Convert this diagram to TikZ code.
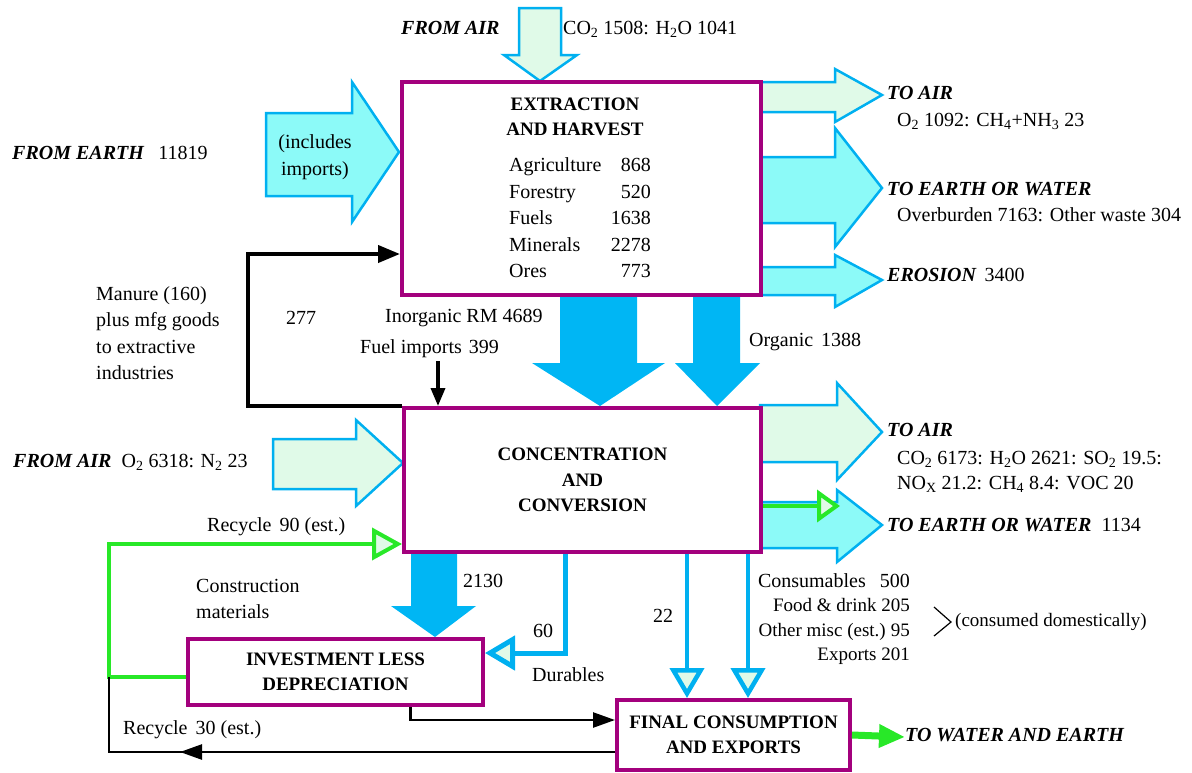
\documentclass[tikz,border=0pt]{standalone}
\usepackage{fontspec}
\setmainfont{Liberation Serif}
\usetikzlibrary{arrows.meta,decorations.markings,calc}
\definecolor{pur}{RGB}{163,0,125}
\definecolor{cyl}{RGB}{0,176,240}
\definecolor{aqua}{RGB}{140,250,248}
\definecolor{lgr}{RGB}{224,250,232}
\definecolor{solidc}{RGB}{0,182,244}
\definecolor{grn}{RGB}{40,232,40}
\begin{document}
\begin{tikzpicture}[x=1pt,y=-1pt,
  box/.style={draw=pur,line width=4pt,fill=white,inner sep=0pt,align=center,
    font=\fontsize{19}{25.5}\selectfont\bfseries},
  lab/.style={inner sep=0pt,font=\fontsize{20}{24}\selectfont,text height=13pt,text depth=4pt},
  bi/.style={lab,font=\fontsize{20}{24}\selectfont\bfseries\itshape},
  mlab/.style={inner sep=0pt,font=\fontsize{20}{26.5}\selectfont},
  barrow/.style={draw=cyl,line width=2.5pt,line join=miter},
  aquaA/.style={barrow,fill=aqua},
  greenA/.style={barrow,fill=lgr},
  solidA/.style={fill=solidc},
  blk/.style={line width=4pt,-{Triangle[length=22pt,width=17pt]}},
  blkthin/.style={line width=2.5pt,-{Triangle[length=22pt,width=15pt]}},
  grnline/.style={draw=grn,line width=4pt,-{Triangle[length=30pt,width=32pt,fill=lgr]}},
  cyline/.style={draw=cyl,line width=5pt,-{Triangle[length=30pt,width=34pt,fill=lgr]}},
]
\useasboundingbox (0,0) rectangle (1192,772);

% ---- block arrows ----
\draw[greenA] (519,8) -- (561,8) -- (561,55) -- (577,55) -- (540,81) -- (504,55) -- (519,55) -- cycle;
\draw[aquaA] (266,113) -- (352,113) -- (352,82) -- (399,152) -- (352,222) -- (352,196) -- (266,196) -- cycle;
\draw[greenA] (760,82) -- (835,82) -- (835,69) -- (882,95) -- (835,122) -- (835,112) -- (760,112) -- cycle;
\draw[aquaA] (760,157) -- (835,157) -- (835,128) -- (882,188) -- (835,247) -- (835,223) -- (760,223) -- cycle;
\draw[aquaA] (760,267) -- (835,267) -- (835,255) -- (882,280) -- (835,307) -- (835,295) -- (760,295) -- cycle;
\draw[greenA] (273,439) -- (356,439) -- (356,420) -- (403,463) -- (356,506) -- (356,489) -- (273,489) -- cycle;
\draw[greenA] (760,405) -- (837,405) -- (837,383) -- (882,432) -- (837,480) -- (837,462) -- (760,462) -- cycle;
\draw[aquaA] (760,502) -- (837,502) -- (837,490) -- (882,525) -- (837,562) -- (837,548) -- (760,548) -- cycle;
\fill[solidA] (560,295) -- (637,295) -- (637,363) -- (665,363) -- (600,406) -- (532,363) -- (560,363) -- cycle;
\fill[solidA] (693,295) -- (740,295) -- (740,363) -- (760,363) -- (717,406) -- (675,363) -- (693,363) -- cycle;
\fill[solidA] (411,552) -- (457,552) -- (457,606) -- (476,606) -- (435,637) -- (391,606) -- (411,606) -- cycle;

% ---- boxes ----
\node[box,minimum width=359pt,minimum height=213pt] (ext) at (581.5,188.5) {};
\node[box,minimum width=357pt,minimum height=144pt] (conc) at (582.5,480) {CONCENTRATION\\AND\\CONVERSION};
\node[box,minimum width=295pt,minimum height=66pt,font=\fontsize{19}{25}\selectfont\bfseries] (inv) at (335.5,672) {INVESTMENT LESS\\DEPRECIATION};
\node[box,minimum width=233pt,minimum height=70pt,font=\fontsize{19}{25}\selectfont\bfseries] (fin) at (733.5,735) {FINAL CONSUMPTION\\AND EXPORTS};

% ---- box 1 text ----
\node[inner sep=0pt,align=center,font=\fontsize{19}{25.5}\selectfont\bfseries] (exth) at (575,117) {EXTRACTION\\AND HARVEST};
\foreach \n/\v [count=\i] in {Agriculture/868,Forestry/520,Fuels/1638,Minerals/2278,Ores/773}{
  \node[lab,anchor=west] (r\i) at (509,{140.5+26.5*\i}) {\n};
  \node[lab,anchor=east] (v\i) at (651,{140.5+26.5*\i}) {\v};
}

% ---- connectors ----
\draw[blk] (conc.north west) -- ++(-154,0) |- ([yshift=43pt]ext.south west);
\coordinate (fi) at (438,361);
\draw[line width=3.5pt,-{Triangle[length=18pt,width=14pt]}] (fi) -- (fi |- conc.north);
\coordinate (gc) at ($(inv.west)+(-77,5)$);
\draw[grnline] (gc -| inv.west) -- (gc) |- ([yshift=10pt]conc.south west);
\draw[grnline,-{Triangle[length=23pt,width=32pt,fill=lgr]}] ([yshift=-26pt]conc.east) -- ++(77,0);
\draw[line width=2.5pt,postaction={decorate},
  decoration={markings,mark=at position 435pt with {\arrow{Triangle[length=22pt,width=15pt]}}}]
  ([yshift=-17pt]fin.west) -| (gc);
\draw[blkthin] ([xshift=75pt]inv.south) |- ([yshift=15pt]fin.west);
\draw[cyline] ([xshift=-198pt]conc.south east) |- ([yshift=19pt]inv.east);
\coordinate (c22) at ([xshift=-76pt]conc.south east);
\coordinate (ccons) at ([xshift=-15pt]conc.south east);
\draw[cyline,line width=4.5pt] (c22) -- (c22 |- fin.north);
\draw[cyline,line width=4.5pt] (ccons) -- (ccons |- fin.north);
\node[bi,anchor=west] (twe) at (905,737) {TO WATER AND EARTH};
\draw[draw=grn,line width=7pt,-{Triangle[length=26pt,width=22pt]}] (fin.east) -- (twe.west);

% ---- labels ----
\node[bi,anchor=west] (fa1) at (401,30) {FROM AIR};
\node[lab,anchor=west] (fa1v) at (563,30) {CO\textsubscript{2} 1508: H\textsubscript{2}O 1041};
\node[lab,anchor=west] (fe) at (12,155) {\textbf{\textit{FROM EARTH}}\hspace{14pt}11819};
\node[mlab,align=center] (inc) at (315,157) {(includes\\imports)};

\node[bi,anchor=west] (ta1) at (887,95) {TO AIR};
\node[lab,anchor=west] (ta1v) at (897,122) {O\textsubscript{2} 1092: CH\textsubscript{4}+NH\textsubscript{3} 23};
\node[bi,anchor=west] (tew1) at (887,191) {TO EARTH OR WATER};
\node[lab,anchor=west] (tew1v) at (897,217) {Overburden 7163: Other waste 304};
\node[lab,anchor=west] (ero) at (887,277) {\textbf{\textit{EROSION}}\hspace{8pt}3400};

\node[mlab,align=left,anchor=west] (man) at (96,333) {Manure (160)\\plus mfg goods\\to extractive\\industries};
\node[lab] (n277) at (301,320) {277};
\node[lab,anchor=west] (inorg) at (385,318) {Inorganic RM 4689};
\node[lab,anchor=west] (fuel) at (360,349) {Fuel imports\hspace{7pt}399};
\node[lab,anchor=west] (org) at (749,342) {Organic\hspace{8pt}1388};

\node[lab,anchor=west] (fa2) at (13,463) {\textbf{\textit{FROM AIR}}\hspace{10pt}O\textsubscript{2} 6318: N\textsubscript{2} 23};
\node[bi,anchor=west] (ta2) at (887,432) {TO AIR};
\node[mlab,align=left,anchor=west,font=\fontsize{20}{25}\selectfont] (ta2v) at (897,472) {CO\textsubscript{2} 6173: H\textsubscript{2}O 2621: SO\textsubscript{2} 19.5:\\NO\textsubscript{X} 21.2: CH\textsubscript{4} 8.4: VOC 20};
\node[lab,anchor=west] (tew2) at (887,527) {\textbf{\textit{TO EARTH OR WATER}}\hspace{10pt}1134};

\node[lab,anchor=west] (rec90) at (207,527) {Recycle\hspace{8pt}90 (est.)};
\node[mlab,align=left,anchor=west] (constr) at (196,599) {Construction\\materials};
\node[lab,anchor=west] (n2130) at (463,583) {2130};
\node[lab,anchor=west] (n60) at (533,633) {60};
\node[lab,anchor=west] (dur) at (532,677) {Durables};
\node[lab,anchor=west] (rec30) at (123,730) {Recycle\hspace{8pt}30 (est.)};
\node[lab,anchor=west] (n22) at (653,618) {22};
\node[mlab,align=right,anchor=east,font=\fontsize{19}{24.2}\selectfont] (cons) at (910,619)
  {{\fontsize{20}{24.2}\selectfont Consumables\hspace{14pt}500}\\Food \& drink 205\\Other misc (est.)\hspace{5pt}95\\Exports 201};
\draw[line width=1.2pt] (934,607) -- (951,622) -- (934,636);
\node[lab,anchor=west,font=\fontsize{19}{24}\selectfont] (cd) at (955,622) {(consumed domestically)};
\end{tikzpicture}
\end{document}
